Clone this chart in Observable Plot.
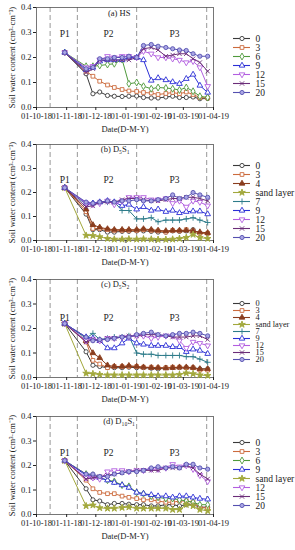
<!DOCTYPE html>
<html><head><meta charset="utf-8">
<script src="https://cdn.jsdelivr.net/npm/d3@7"></script>
<script src="https://cdn.jsdelivr.net/npm/@observablehq/plot@0.6"></script>
<style>
body{margin:0;background:#fff;}
#root{position:relative;width:295px;height:550px;font-family:"Liberation Serif",serif;}
.panel{position:absolute;left:0;width:295px;}
.panel svg{position:absolute;top:0;overflow:visible;}
</style></head><body><div id="root"></div>
<script>
// ---- data ----
const dates = ["2018-10-30","2018-11-21","2018-11-28","2018-12-05","2018-12-13","2018-12-20","2018-12-28","2019-01-04","2019-01-12","2019-01-19","2019-01-27","2019-02-03","2019-02-11","2019-02-18","2019-02-25","2019-03-04","2019-03-11","2019-03-18","2019-03-26"];
const monthTicks = ["2018-10-01","2018-11-01","2018-12-01","2019-01-01","2019-02-01","2019-03-01","2019-04-01"];
const xTickLabels = ["01-10-18","01-11-18","01-12-18","01-01-19","01-02-19","01-03-19","01-04-19"];
const yTicks = [0, 0.1, 0.2, 0.3, 0.4];
const phaseBounds = ["2018-10-15","2018-11-12","2019-01-12","2019-03-25"];
const phaseNames = ["P1","P2","P3"];
const phaseLabelDates = ["2018-10-30","2018-12-14","2019-02-20"];

// (a) HS
const hsSeries = ["0","3","6","9","12","15","20"];
const hs0  = [0.22,0.135,0.055,0.062,0.048,0.045,0.044,0.045,0.046,0.040,0.038,0.038,0.042,0.045,0.040,0.040,0.042,0.035,0.036];
const hs3  = [0.22,0.145,0.125,0.105,0.090,0.080,0.072,0.066,0.064,0.060,0.058,0.052,0.056,0.060,0.055,0.062,0.052,0.040,0.038];
const hs6  = [0.22,0.165,0.165,0.168,0.172,0.175,0.192,0.095,0.100,0.085,0.075,0.080,0.078,0.075,0.070,0.080,0.065,0.045,0.040];
const hs9  = [0.22,0.150,0.160,0.185,0.190,0.190,0.190,0.200,0.200,0.190,0.108,0.118,0.110,0.102,0.095,0.115,0.132,0.088,0.060];
const hs12 = [0.22,0.160,0.165,0.190,0.205,0.200,0.205,0.205,0.200,0.225,0.215,0.200,0.200,0.195,0.190,0.180,0.185,0.160,0.085];
const hs15 = [0.22,0.140,0.155,0.190,0.190,0.190,0.190,0.190,0.200,0.235,0.240,0.230,0.205,0.210,0.215,0.215,0.195,0.180,0.145];
const hs20 = [0.22,0.155,0.160,0.195,0.195,0.200,0.200,0.205,0.200,0.248,0.252,0.245,0.240,0.235,0.230,0.228,0.215,0.205,0.205];

// (b) D5S1
const b_Series = ["0","3","4","sand layer","7","9","12","15","20"];
const b0  = [0.22,0.110,0.045,0.045,0.035,0.035,0.038,0.038,0.040,0.040,0.038,0.035,0.035,0.040,0.038,0.040,0.045,0.030,0.030];
const b3  = [0.22,0.120,0.050,0.050,0.045,0.042,0.042,0.042,0.042,0.045,0.042,0.040,0.035,0.042,0.040,0.045,0.040,0.030,0.030];
const b4  = [0.22,0.130,0.065,0.055,0.048,0.045,0.045,0.045,0.045,0.048,0.045,0.042,0.040,0.042,0.042,0.042,0.040,0.035,0.032];
const bS  = [0.22,0.021,0.020,0.015,0.008,0.005,0.005,0.006,0.005,0.006,0.005,0.004,0.004,0.005,0.008,0.012,0.025,0.012,0.008];
const b7  = [0.22,0.150,0.155,0.155,0.160,0.160,0.125,0.125,0.090,0.090,0.095,0.078,0.085,0.085,0.085,0.090,0.095,0.085,0.075];
const b9  = [0.22,0.155,0.155,0.160,0.165,0.160,0.145,0.150,0.130,0.140,0.125,0.130,0.120,0.125,0.115,0.120,0.122,0.122,0.110];
const b12 = [0.22,0.155,0.150,0.155,0.165,0.150,0.165,0.180,0.180,0.180,0.170,0.170,0.175,0.155,0.165,0.140,0.165,0.160,0.145];
const b15 = [0.22,0.140,0.145,0.160,0.160,0.160,0.170,0.175,0.175,0.170,0.165,0.165,0.170,0.175,0.175,0.180,0.180,0.175,0.165];
const b20 = [0.22,0.160,0.155,0.160,0.165,0.160,0.165,0.165,0.170,0.165,0.165,0.170,0.175,0.190,0.175,0.180,0.200,0.190,0.180];

// (c) D5S2
const c_Series = ["0","3","4","sand layer","7","9","12","15","20"];
const c0  = [0.22,0.105,0.050,0.045,0.040,0.040,0.040,0.042,0.040,0.040,0.038,0.035,0.040,0.040,0.040,0.040,0.040,0.035,0.035];
const c3  = [0.22,0.145,0.070,0.055,0.040,0.045,0.045,0.045,0.045,0.042,0.042,0.040,0.040,0.042,0.042,0.040,0.040,0.030,0.030];
const c4  = [0.22,0.150,0.100,0.080,0.050,0.045,0.045,0.048,0.045,0.042,0.040,0.040,0.038,0.040,0.042,0.042,0.040,0.035,0.035];
const cS  = [0.22,0.017,0.015,0.012,0.010,0.010,0.010,0.010,0.010,0.010,0.010,0.010,0.010,0.010,0.012,0.018,0.015,0.010,0.008];
const c7  = [0.22,0.160,0.180,0.155,0.160,0.165,0.165,0.170,0.100,0.095,0.095,0.090,0.090,0.090,0.090,0.085,0.085,0.075,0.062];
const c9  = [0.22,0.165,0.160,0.150,0.120,0.120,0.140,0.160,0.140,0.135,0.130,0.130,0.130,0.125,0.125,0.105,0.115,0.110,0.097];
const c12 = [0.22,0.150,0.155,0.150,0.160,0.160,0.165,0.165,0.170,0.170,0.160,0.165,0.170,0.170,0.150,0.120,0.145,0.140,0.130];
const c15 = [0.22,0.145,0.155,0.150,0.160,0.160,0.165,0.170,0.170,0.175,0.175,0.175,0.170,0.165,0.165,0.165,0.170,0.170,0.155];
const c20 = [0.22,0.165,0.150,0.155,0.155,0.160,0.165,0.165,0.175,0.180,0.185,0.175,0.170,0.175,0.180,0.180,0.185,0.180,0.170];

// (d) D10S1
const d_Series = ["0","3","6","9","sand layer","12","15","20"];
const d0  = [0.22,0.105,0.060,0.055,0.040,0.045,0.045,0.042,0.040,0.040,0.035,0.035,0.040,0.040,0.035,0.040,0.040,0.030,0.030];
const d3  = [0.22,0.140,0.105,0.090,0.085,0.085,0.075,0.070,0.065,0.060,0.060,0.055,0.050,0.050,0.055,0.055,0.050,0.030,0.025];
const d6  = [0.22,0.165,0.160,0.150,0.140,0.135,0.120,0.115,0.090,0.085,0.075,0.070,0.065,0.065,0.060,0.055,0.050,0.040,0.040];
const d9  = [0.22,0.160,0.155,0.150,0.140,0.130,0.120,0.110,0.090,0.085,0.080,0.075,0.075,0.070,0.075,0.075,0.070,0.065,0.062];
const dS  = [0.22,0.035,0.038,0.027,0.025,0.025,0.028,0.030,0.025,0.025,0.025,0.025,0.025,0.020,0.020,0.040,0.035,0.020,0.015];
const d12 = [0.22,0.150,0.150,0.145,0.175,0.180,0.180,0.175,0.180,0.180,0.185,0.185,0.190,0.205,0.195,0.200,0.185,0.160,0.135];
const d15 = [0.22,0.145,0.150,0.155,0.160,0.165,0.170,0.175,0.180,0.180,0.180,0.180,0.190,0.190,0.190,0.200,0.190,0.165,0.145];
const d20 = [0.22,0.165,0.165,0.155,0.155,0.165,0.170,0.175,0.175,0.180,0.190,0.195,0.190,0.195,0.190,0.205,0.205,0.190,0.185];

// ---- styles ----
const triDown = {draw(ctx, size){const y=-Math.sqrt(size/(Math.sqrt(3)*3));ctx.moveTo(0,-y*2);ctx.lineTo(-Math.sqrt(3)*y,y);ctx.lineTo(Math.sqrt(3)*y,y);ctx.closePath();}};
const seriesStyle = {
  "0":{stroke:"#3a3a3a",symbol:"circle",fill:"white"},
  "3":{stroke:"#cc6b3d",symbol:"square",fill:"white"},
  "4":{stroke:"#8a3d1e",symbol:"triangle",fill:"#8a3d1e"},
  "6":{stroke:"#4f9a3c",symbol:"diamond",fill:"white"},
  "sand layer":{stroke:"#a2a83c",symbol:"star",fill:"#a2a83c"},
  "7":{stroke:"#2e7c8a",symbol:"plus",fill:"none"},
  "9":{stroke:"#2b2fd6",symbol:"triangle",fill:"white"},
  "12":{stroke:"#b25fe0",symbol:triDown,fill:"white"},
  "15":{stroke:"#6b2c78",symbol:"times",fill:"none"},
  "20":{stroke:"#5550b0",symbol:"circle",fill:"#aaa6e4"}
};

const panels = [
  {title:"(a) HS", series:hsSeries, values:[hs0,hs3,hs6,hs9,hs12,hs15,hs20], top:0, plotH:100, phaseY:0.296, titleY:0.375, titleX:"2018-12-25", legend:[33,97], legendFont:"9.5px"},
  {title:"(b) D₅S₁", series:b_Series, values:[b0,b3,b4,bS,b7,b9,b12,b15,b20], top:137, plotH:96, phaseY:0.254, titleY:0.38, titleX:"2018-12-21", legend:[21,107], legendFont:"9.5px"},
  {title:"(c) D₅S₂", series:c_Series, values:[c0,c3,c4,cS,c7,c9,c12,c15,c20], top:272, plotH:98, phaseY:0.245, titleY:0.38, titleX:"2018-12-21", legend:[25,92], legendFont:"8.3px"},
  {title:"(d) D₁₀S₁", series:d_Series, values:[d0,d3,d6,d9,dS,d12,d15,d20], top:409, plotH:98, phaseY:0.25, titleY:0.38, titleX:"2018-12-25", legend:[26,102], legendFont:"9.5px"}
];

const toDate = s => new Date(s + "T00:00:00Z");
const root = document.getElementById("root");
const fontFamily = '"Liberation Serif", "Times New Roman", serif';

for (const p of panels) {
  const div = document.createElement("div");
  div.className = "panel";
  div.style.top = p.top + "px";
  const H = 7 + p.plotH + 29;
  div.style.height = H + "px";
  const lineMarks = [];
  p.series.forEach((name, i) => {
    const st = seriesStyle[name];
    const rows = p.values[i].map((v, j) => ({series: name, date: toDate(dates[j]), value: v}));
    lineMarks.push(Plot.line(rows, {x: "date", y: "value", stroke: st.stroke, strokeWidth: 1}));
    lineMarks.push(Plot.dot(rows, {x: "date", y: "value", stroke: st.stroke, fill: st.fill, symbol: st.symbol, r: 2.1, strokeWidth: 0.9}));
  });
  const chart = Plot.plot({
    width: 232, height: H,
    marginLeft: 36, marginRight: 19, marginTop: 7, marginBottom: 29,
    style: {fontFamily, fontSize: "8.5px", color: "#222", background: "transparent", overflow: "visible"},
    x: {type: "utc", domain: [toDate("2018-10-01"), toDate("2019-04-01")]},
    y: {domain: [0, 0.4]},
    marks: [
      Plot.ruleX(phaseBounds.map(toDate), {stroke: "#8c8c8c", strokeWidth: 0.9, strokeDasharray: "5,3"}),
      Plot.frame({stroke: "#555", strokeWidth: 0.8}),
      Plot.axisX({ticks: monthTicks.map(toDate), tickFormat: (d, i) => xTickLabels[i], tickSize: 3, tickPadding: 2, label: "Date(D-M-Y)", labelAnchor: "center", labelArrow: false, labelOffset: 24, fontSize: 8.5}),
      Plot.axisY({ticks: yTicks, tickFormat: d => d.toFixed(1), tickSize: 3, tickPadding: 2, label: "Soil water content (cm³·cm⁻³)", labelAnchor: "center", labelArrow: false, labelOffset: 28, fontSize: 8.5}),
      Plot.text(phaseNames, {x: (d, i) => toDate(phaseLabelDates[i]), y: () => p.phaseY, text: d => d, fontSize: 9.5}),
      Plot.text([p.title], {x: () => toDate(p.titleX), y: () => p.titleY, text: d => d, fontSize: 8.5}),
      ...lineMarks
    ]
  });
  chart.style.left = "0px";
  div.appendChild(chart);

  // legend
  const legend = Plot.plot({
    width: 63, height: H, margin: 0,
    style: {fontFamily, fontSize: p.legendFont, color: "#222", background: "transparent", overflow: "visible"},
    x: {domain: [0, 63], range: [0, 63], axis: null},
    y: {type: "point", domain: p.series, range: p.legend, axis: null},
    marks: [
      ...p.series.flatMap(name => {
        const st = seriesStyle[name];
        return [
          Plot.ruleY([name], {y: d => d, x1: () => 1, x2: () => 18, stroke: st.stroke, strokeWidth: 1.1}),
          Plot.dot([name], {y: d => d, x: () => 9.5, stroke: st.stroke, fill: st.fill, symbol: st.symbol, r: 2.1, strokeWidth: 0.9}),
          Plot.text([name], {y: d => d, x: () => 23, text: d => d, textAnchor: "start", fill: "#222"})
        ];
      })
    ]
  });
  legend.style.left = "232px";
  div.appendChild(legend);
  root.appendChild(div);
}
</script>
</body></html>
